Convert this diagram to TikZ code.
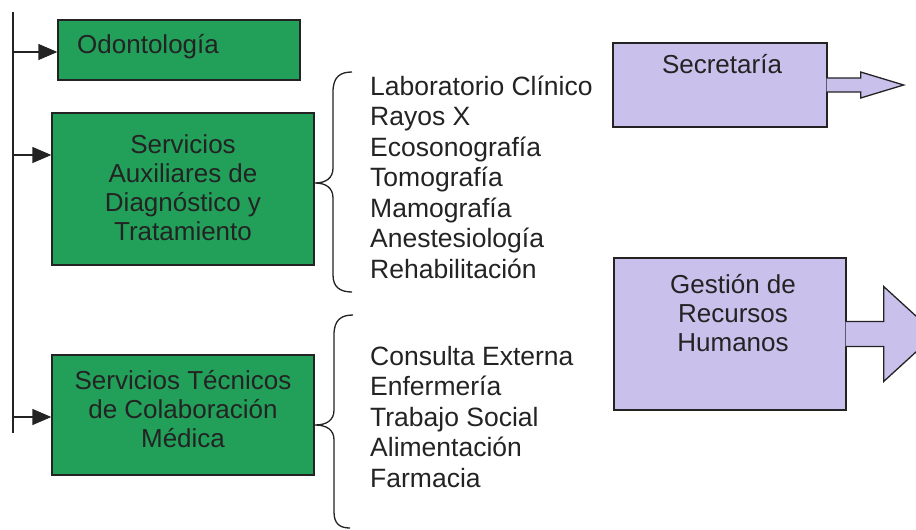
\documentclass[tikz,border=0pt]{standalone}
\usepackage{fontspec}
\setmainfont{Liberation Sans}
\usetikzlibrary{arrows.meta,calc}
\definecolor{gbox}{RGB}{34,160,90}
\definecolor{pbox}{RGB}{201,192,236}
\definecolor{ink}{RGB}{35,35,35}
\begin{document}
\begin{tikzpicture}[x=1pt,y=-1pt,
  gboxst/.style={draw=ink, line width=1.3pt, fill=gbox, inner sep=0pt},
  pboxst/.style={draw=ink, line width=1.3pt, fill=pbox, inner sep=0pt},
  txt/.style={font=\fontsize{26}{29}\selectfont, text=ink, align=center, inner sep=0pt},
  listst/.style={font=\fontsize{26.5}{30.5}\selectfont, text=ink, align=left, inner sep=0pt, anchor=north west},
  trunk/.style={draw=ink, line width=1.3pt},
  arr/.style={draw=ink, line width=1.3pt, -{Triangle[length=19pt,width=16pt]}},
  bracest/.style={draw=ink, line width=1.3pt},
  blockarr/.style={draw=ink, line width=1.3pt, fill=pbox, line join=miter}
]
\fill[white] (0,0) rectangle (916,530);
\useasboundingbox (0,0) rectangle (916,530);

% green boxes
\node[gboxst, minimum width=242pt, minimum height=60pt] (odo) at (179,50) {};
\node[txt, anchor=base west] (odot) at (77,53) {Odontología};

\node[gboxst, minimum width=262pt, minimum height=152pt] (aux) at (183,189) {};
\node[txt] (auxt) at (183,188) {Servicios\\Auxiliares de\\Diagnóstico y\\Tratamiento};

\node[gboxst, minimum width=262pt, minimum height=120pt] (tec) at (183,415) {};
\node[txt] (tect) at (183,409) {Servicios Técnicos\\de Colaboración\\Médica};

% trunk and arrows
\coordinate (ttop) at (13,12);
\coordinate (tbot) at (13,433);
\draw[trunk] (ttop) -- (tbot);
\coordinate (t1) at (13,52);
\coordinate (t2) at (13,155);
\coordinate (t3) at (13,417);
\draw[arr] (t1) -- (t1 -| odo.west);
\draw[arr] (t2) -- (t2 -| aux.west);
\draw[arr] (t3) -- (t3 -| tec.west);

% braces
\coordinate (b1tip) at (315,183);
\draw[bracest] (352,72) .. controls (340,72) and (333,77) .. (333,92) -- (333,168)
  .. controls (333,178) and (326,183) .. (b1tip)
  .. controls (326,183) and (333,188) .. (333,198) -- (333,275)
  .. controls (333,287) and (340,292) .. (352,292);
\coordinate (b2tip) at (315,425);
\draw[bracest] (353,315) .. controls (341,315) and (334,320) .. (334,335) -- (334,410)
  .. controls (334,420) and (327,425) .. (b2tip)
  .. controls (327,425) and (334,430) .. (334,440) -- (334,512)
  .. controls (334,524) and (340,528) .. (350,528);

% lists
\node[listst] (list1) at (370,75.5) {Laboratorio Clínico\\Rayos X\\Ecosonografía\\Tomografía\\Mamografía\\Anestesiología\\Rehabilitación};
\node[listst] (list2) at (370,346) {Consulta Externa\\Enfermería\\Trabajo Social\\Alimentación\\Farmacia};

% purple boxes
\node[pboxst, minimum width=214pt, minimum height=84pt] (sec) at (720,85) {};
\node[txt, anchor=base] (sect) at (722,73) {Secretaría};
\draw[blockarr] ($(sec.east)+(-1,-7)$) -- ++(34,0) -- ++(0,-6) -- ($(sec.east)+(76,0)$)
  -- ($(sec.east)+(33,13)$) -- ++(0,-6) -- ($(sec.east)+(-1,7)$);

\node[pboxst, minimum width=232pt, minimum height=152pt] (ges) at (730,334) {};
\node[txt] (gest) at (733,313) {Gestión de\\Recursos\\Humanos};
\draw[blockarr] ($(ges.east)+(-1,-12.5)$) -- ++(38,0) -- ++(0,-35) -- ($(ges.east)+(89,0)$)
  -- ($(ges.east)+(37,47.5)$) -- ++(0,-35) -- ($(ges.east)+(-1,12.5)$);
\end{tikzpicture}
\end{document}
